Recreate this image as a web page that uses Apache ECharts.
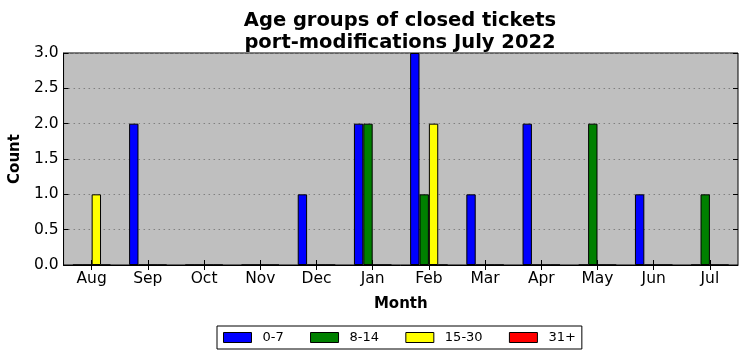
<!DOCTYPE html>
<html><head><meta charset="utf-8">
<script src="https://cdn.jsdelivr.net/npm/echarts@6/dist/echarts.min.js"></script>
<style>html,body{margin:0;padding:0;background:#fff}#c{width:747px;height:361px}</style>
</head><body><div id="c"></div>
<script>
const months = ['Aug','Sep','Oct','Nov','Dec','Jan','Feb','Mar','Apr','May','Jun','Jul'];
const age0_7   = [0,2,0,0,1,2,3,1,2,0,1,0];
const age8_14  = [0,0,0,0,0,2,1,0,0,2,0,1];
const age15_30 = [1,0,0,0,0,0,2,0,0,0,0,0];
const age31p   = [0,0,0,0,0,0,0,0,0,0,0,0];
const seriesNames = ['0-7','8-14','15-30','31+'];
const seriesColors = ['#0000ff','#008000','#ffff00','#ff0000'];
const yTicks = ['0.0','0.5','1.0','1.5','2.0','2.5','3.0'];

const F = 'DejaVu Sans';
const chart = echarts.init(document.getElementById('c'), null, {renderer:'canvas'});
const vals = [age0_7, age8_14, age15_30, age31p];
chart.setOption({
  animation:false,
  backgroundColor:'#fff',
  title:{text:'Age groups of closed tickets\nport-modifications July 2022', left:395, textAlign:'center', top:5,
    textStyle:{fontFamily:F, fontWeight:'bold', fontSize:19.5, color:'#000', lineHeight:22}},
  grid:{left:62, right:9, top:53, bottom:96, show:true, backgroundColor:'#bfbfbf', borderColor:'#000', borderWidth:1},
  legend:{top:326, left:217, data:seriesNames, itemWidth:28, itemHeight:10, itemGap:26.3,
    borderColor:'#000', borderWidth:1, padding:[5,6,5,6], borderRadius:0,
    textStyle:{fontFamily:F, fontSize:13, color:'#000', padding:[0,0,0,6]},
    icon:'rect', itemStyle:{borderColor:'#000', borderWidth:1}},
  xAxis:[{type:'category', data:months, boundaryGap:true, name:'Month', nameLocation:'middle', nameGap:32,
    nameTextStyle:{fontFamily:F, fontWeight:'bold', fontSize:15, color:'#000'},
    axisLine:{show:true, lineStyle:{color:'#000'}},
    axisTick:{show:true, inside:true, alignWithLabel:true, length:5, lineStyle:{color:'#000'}},
    axisLabel:{fontFamily:F, fontSize:15.5, color:'#000', margin:6}},
    {type:'category', data:months, position:'top', boundaryGap:true,
    axisLine:{show:false}, axisTick:{show:true, inside:true, alignWithLabel:true, length:5, lineStyle:{color:'#000'}},
    axisLabel:{show:false}}],
  yAxis:[{type:'value', min:0, max:3, interval:0.5, name:'Count', nameLocation:'middle', nameGap:39,
    nameTextStyle:{fontFamily:F, fontWeight:'bold', fontSize:15, color:'#000'},
    axisLine:{show:true, lineStyle:{color:'#000'}},
    axisTick:{show:true, inside:true, length:5, lineStyle:{color:'#000'}},
    axisLabel:{fontFamily:F, fontSize:15.5, color:'#000', margin:5, formatter:(v)=>yTicks[Math.round(v*2)]},
    splitLine:{show:true, lineStyle:{color:'#808080', type:[1.5,3.5], width:1}}},
    {type:'value', min:0, max:3, interval:0.5, position:'right',
    axisLine:{show:false}, axisTick:{show:true, inside:true, length:5, lineStyle:{color:'#000'}},
    axisLabel:{show:false}, splitLine:{show:false}}],
  series: seriesNames.map((n,i)=>({name:n, type:'bar', data:vals[i], xAxisIndex:0, yAxisIndex:0,
    barGap:'0%', barCategoryGap:'33.3%',
    itemStyle:{color:seriesColors[i], borderColor:'#000', borderWidth:1}}))
});
</script></body></html>
